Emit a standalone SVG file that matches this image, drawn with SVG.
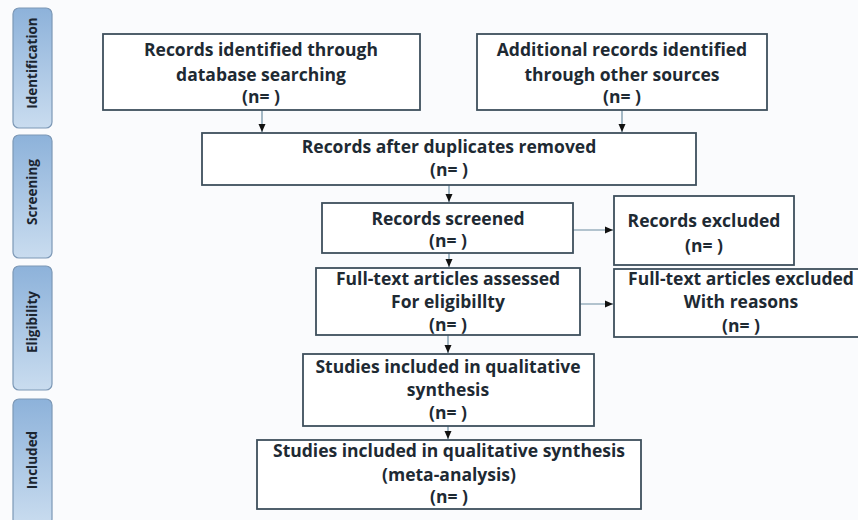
<svg xmlns="http://www.w3.org/2000/svg" width="858" height="520" viewBox="0 0 858 520">
<defs>
<linearGradient id="tabg" x1="0" y1="0" x2="0" y2="1">
<stop offset="0" stop-color="#8db2da"/>
<stop offset="1" stop-color="#c9dcef"/>
</linearGradient>
<marker id="ah" viewBox="0 0 8 8" refX="8" refY="4" markerWidth="8" markerHeight="8" markerUnits="userSpaceOnUse" orient="auto">
<path d="M0,0.5 L8,4 L0,7.5 z" fill="#111"/>
</marker>
<style>
.tab{fill:url(#tabg);stroke:#7c98b6;stroke-width:1.2}
.tabt{font-family:"Open Sans","Liberation Sans",sans-serif;font-weight:700;font-size:13.5px;fill:#1b2530;text-anchor:middle}
.box{fill:#ffffff;stroke:#3e4f5c;stroke-width:1.8}
.t{font-family:"Open Sans","Liberation Sans",sans-serif;font-weight:700;font-size:17.5px;fill:#1e2a33;text-anchor:middle}
.c{stroke:#6a8ca0;stroke-width:1.2;fill:none;marker-end:url(#ah)}
</style>
</defs>
<rect width="858" height="520" fill="#fafbfd"/>
<g id="tab-identification"><rect class="tab" x="13" y="8" width="39" height="120" rx="6"/><text class="tabt" transform="translate(37,63) rotate(-90)">Identification</text></g>
<g id="tab-screening"><rect class="tab" x="13" y="135" width="39" height="123" rx="6"/><text class="tabt" transform="translate(37,192) rotate(-90)">Screening</text></g>
<g id="tab-eligibility"><rect class="tab" x="13" y="266" width="39" height="124" rx="6"/><text class="tabt" transform="translate(37,322) rotate(-90)">Eligibility</text></g>
<g id="tab-included"><rect class="tab" x="13" y="399" width="39" height="126" rx="6"/><text class="tabt" transform="translate(37,460) rotate(-90)">Included</text></g>

<g id="connectors">
<line class="c" x1="262" y1="110" x2="262" y2="132"/>
<line class="c" x1="622" y1="110" x2="622" y2="132"/>
<line class="c" x1="449" y1="185" x2="449" y2="202"/>
<line class="c" x1="573" y1="230" x2="613" y2="230"/>
<line class="c" x1="449" y1="253" x2="449" y2="267"/>
<line class="c" x1="580" y1="304" x2="613" y2="304"/>
<line class="c" x1="448" y1="335" x2="448" y2="353"/>
<line class="c" x1="448" y1="426" x2="448" y2="439"/>
</g>

<g id="n1"><rect class="box" x="103" y="34" width="317" height="76"/>
<text class="t" x="261" y="56">Records identified through</text>
<text class="t" x="261" y="81">database searching</text>
<text class="t" x="261" y="103">(n= )</text></g>
<g id="n2"><rect class="box" x="477" y="34" width="290" height="76"/>
<text class="t" x="622" y="56">Additional records identified</text>
<text class="t" x="622" y="81">through other sources</text>
<text class="t" x="622" y="103">(n= )</text></g>
<g id="n3"><rect class="box" x="202" y="133" width="494" height="52"/>
<text class="t" x="449" y="153">Records after duplicates removed</text>
<text class="t" x="449" y="176">(n= )</text></g>
<g id="n4"><rect class="box" x="322" y="203" width="251" height="50"/>
<text class="t" x="448" y="225">Records screened</text>
<text class="t" x="448" y="247">(n= )</text></g>
<g id="n5"><rect class="box" x="614" y="196" width="180" height="69"/>
<text class="t" x="704" y="227">Records excluded</text>
<text class="t" x="704" y="252">(n= )</text></g>
<g id="n6"><rect class="box" x="316" y="268" width="264" height="67"/>
<text class="t" x="448" y="285">Full-text articles assessed</text>
<text class="t" x="448" y="308">For eligibillty</text>
<text class="t" x="448" y="331">(n= )</text></g>
<g id="n7"><rect class="box" x="614" y="269" width="260" height="68"/>
<text class="t" x="741" y="285">Full-text articles excluded</text>
<text class="t" x="741" y="308">With reasons</text>
<text class="t" x="741" y="332">(n= )</text></g>
<g id="n8"><rect class="box" x="303" y="354" width="291" height="72"/>
<text class="t" x="448" y="373">Studies included in qualitative</text>
<text class="t" x="448" y="396">synthesis</text>
<text class="t" x="448" y="419">(n= )</text></g>
<g id="n9"><rect class="box" x="257" y="440" width="384" height="69"/>
<text class="t" x="449" y="457">Studies included in qualitative synthesis</text>
<text class="t" x="449" y="481">(meta-analysis)</text>
<text class="t" x="449" y="503">(n= )</text></g>
</svg>
